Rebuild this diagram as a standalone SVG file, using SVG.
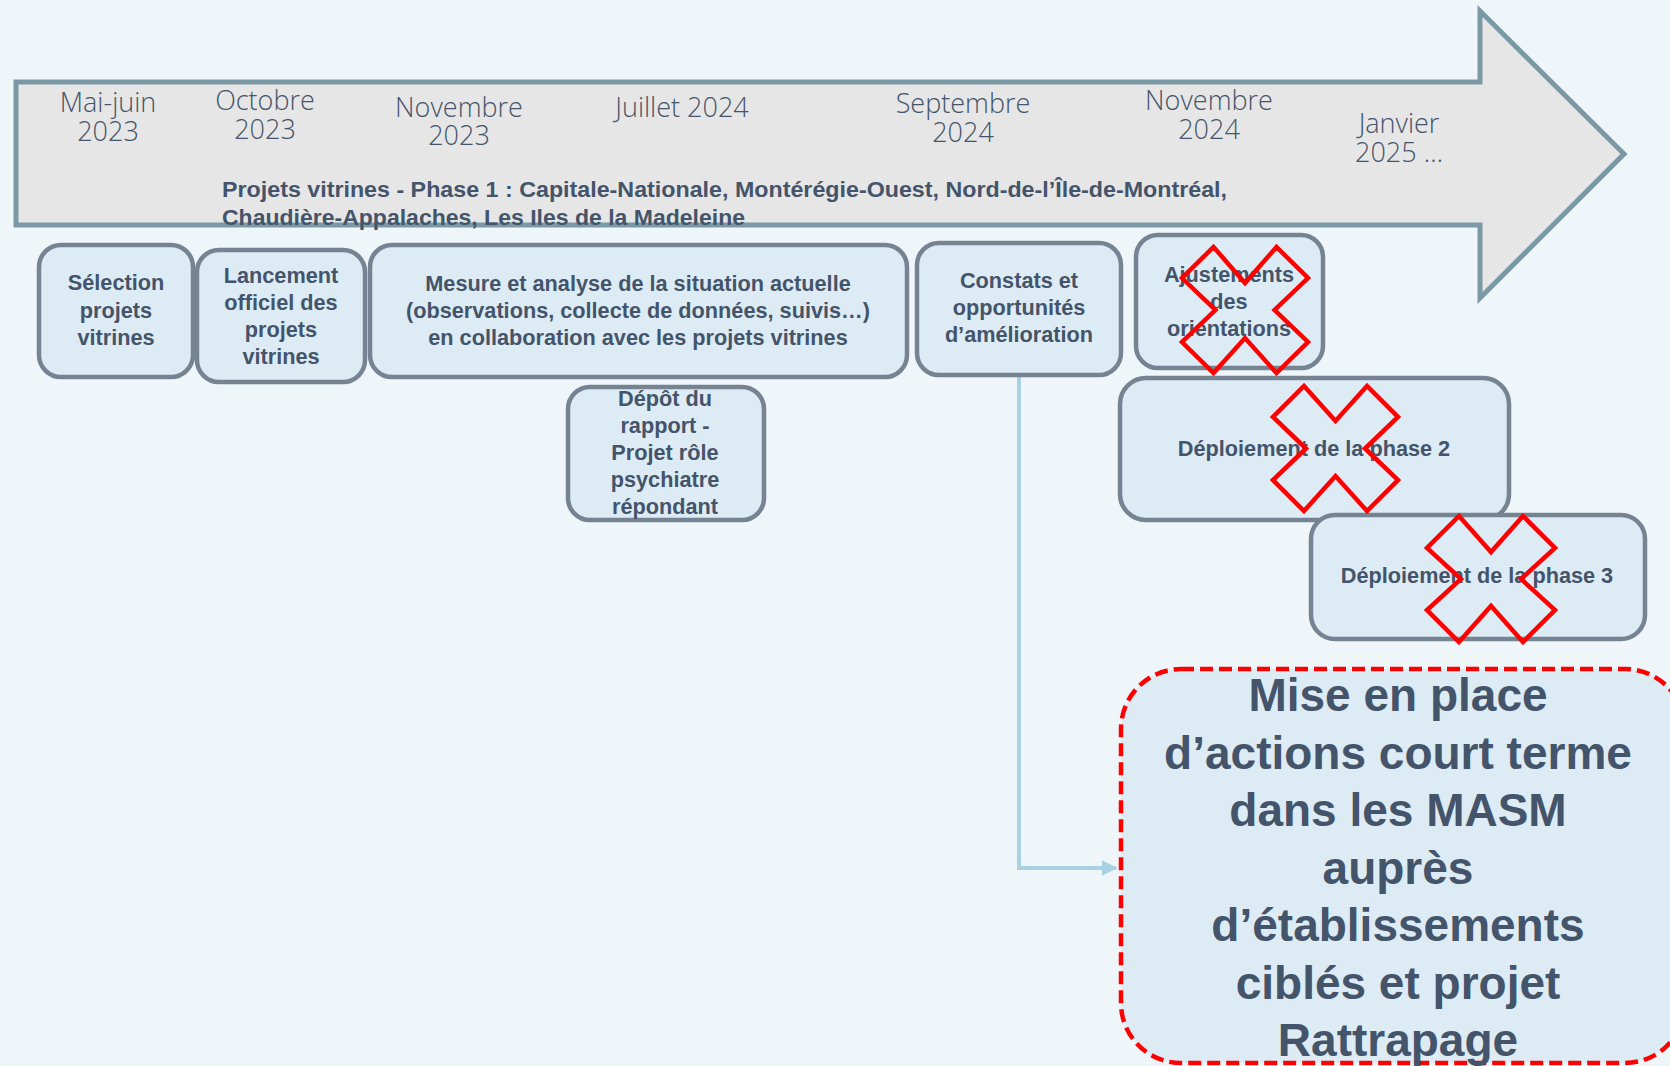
<svg xmlns="http://www.w3.org/2000/svg" width="1670" height="1066" viewBox="0 0 1670 1066">
<style>
.date{font-family:"Open Sans","Liberation Sans",sans-serif;font-weight:300;font-size:27px;fill:#44546A;text-anchor:middle}
.band{font-family:"Liberation Sans",Arial,sans-serif;font-weight:bold;font-size:22.5px;fill:#44546A}
.box{fill:#DDEBF4;stroke:#758392;stroke-width:4.5}
.lbl{font-family:"Liberation Sans",Arial,sans-serif;font-weight:bold;font-size:21.7px;fill:#44546A;text-anchor:middle}
.big{font-family:"Liberation Sans",Arial,sans-serif;font-weight:bold;font-size:46px;fill:#44546A;text-anchor:middle}
.x{fill:none;stroke:#FF0000;stroke-width:4.5;stroke-linejoin:miter}
</style>
<defs>
<marker id="ah" viewBox="0 0 10 10" refX="9" refY="5" markerWidth="4" markerHeight="4" orient="auto" markerUnits="strokeWidth">
<path d="M0 0 L10 5 L0 10 Z" fill="#A8D1E2"/>
</marker>
</defs>
<rect width="1670" height="1066" fill="#EEF6FA"/>

<g id="timeline">
<path d="M16 82 H1480 V11 L1624 154 L1480 298 V225 H16 Z" fill="#E7E6E6" stroke="#7B99A4" stroke-width="5"/>
<text class="date" x="108" y="112">Mai-juin</text>
<text class="date" x="108" y="141">2023</text>
<text class="date" x="265" y="110">Octobre</text>
<text class="date" x="265" y="139">2023</text>
<text class="date" x="459" y="117">Novembre</text>
<text class="date" x="459" y="145">2023</text>
<text class="date" x="682" y="117">Juillet 2024</text>
<text class="date" x="963" y="113">Septembre</text>
<text class="date" x="963" y="142">2024</text>
<text class="date" x="1209" y="110">Novembre</text>
<text class="date" x="1209" y="139">2024</text>
<text class="date" x="1399" y="133">Janvier</text>
<text class="date" x="1399" y="162">2025 …</text>
<text class="band" x="222" y="197" textLength="1005" lengthAdjust="spacingAndGlyphs">Projets vitrines - Phase 1 : Capitale-Nationale, Montérégie-Ouest, Nord-de-l’Île-de-Montréal,</text>
<text class="band" x="222" y="225" textLength="523" lengthAdjust="spacingAndGlyphs">Chaudière-Appalaches, Les Iles de la Madeleine</text>
</g>

<g id="connectors">
<path d="M1019 377 V868 H1116" fill="none" stroke="#A8D1E2" stroke-width="4" marker-end="url(#ah)"/>
</g>

<g id="n1">
<rect class="box" x="39" y="245" width="154" height="132" rx="22"/>
<text class="lbl" x="116" y="290">Sélection</text>
<text class="lbl" x="116" y="318">projets</text>
<text class="lbl" x="116" y="345">vitrines</text>
</g>
<g id="n2">
<rect class="box" x="197" y="250" width="168" height="132" rx="22"/>
<text class="lbl" x="281" y="283">Lancement</text>
<text class="lbl" x="281" y="310">officiel des</text>
<text class="lbl" x="281" y="337">projets</text>
<text class="lbl" x="281" y="364">vitrines</text>
</g>
<g id="n3">
<rect class="box" x="370" y="245" width="537" height="132" rx="22"/>
<text class="lbl" x="638" y="291">Mesure et analyse de la situation actuelle</text>
<text class="lbl" x="638" y="318">(observations, collecte de données, suivis…)</text>
<text class="lbl" x="638" y="345">en collaboration avec les projets vitrines</text>
</g>
<g id="n4">
<rect class="box" x="917" y="243" width="204" height="132" rx="22"/>
<text class="lbl" x="1019" y="288">Constats et</text>
<text class="lbl" x="1019" y="315">opportunités</text>
<text class="lbl" x="1019" y="342">d’amélioration</text>
</g>
<g id="n5">
<rect class="box" x="1136" y="235" width="187" height="133" rx="22"/>
<text class="lbl" x="1229" y="282">Ajustements</text>
<text class="lbl" x="1229" y="309">des</text>
<text class="lbl" x="1229" y="336">orientations</text>
</g>
<g id="n6">
<rect class="box" x="568" y="387" width="196" height="133" rx="22"/>
<text class="lbl" x="665" y="406">Dépôt du</text>
<text class="lbl" x="665" y="433">rapport -</text>
<text class="lbl" x="665" y="460">Projet rôle</text>
<text class="lbl" x="665" y="487">psychiatre</text>
<text class="lbl" x="665" y="514">répondant</text>
</g>
<g id="n7">
<rect class="box" x="1120" y="378" width="389" height="142" rx="26"/>
<text class="lbl" x="1314" y="456">Déploiement de la phase 2</text>
</g>
<g id="n8">
<rect class="box" x="1311" y="515" width="334" height="124" rx="24"/>
<text class="lbl" x="1477" y="583">Déploiement de la phase 3</text>
</g>
<g id="n9">
<rect x="1121" y="669" width="564" height="394" rx="60" fill="#DDEBF4" stroke="#FF0000" stroke-width="4.5" stroke-dasharray="13 6"/>
<text class="big" x="1398" y="711">Mise en place</text>
<text class="big" x="1398" y="769">d’actions court terme</text>
<text class="big" x="1398" y="826">dans les MASM</text>
<text class="big" x="1398" y="884">auprès</text>
<text class="big" x="1398" y="941">d’établissements</text>
<text class="big" x="1398" y="999">ciblés et projet</text>
<text class="big" x="1398" y="1056">Rattrapage</text>
</g>

<g id="crosses">
<polygon class="x" points="1213.5,247 1245,283 1276.5,247 1308,278 1274.6,310 1308,342 1276.5,373 1245,338 1213.5,373 1182,342 1215.4,310 1182,278"/>
<polygon class="x" points="1304,386 1335.5,421 1367,386 1398,417 1365,448.5 1398,480 1367,511 1335.5,476 1304,511 1273,480 1306,448.5 1273,417"/>
<polygon class="x" points="1459,516 1491,552 1523,516 1555,548 1521,579 1555,610 1523,642 1491,606 1459,642 1427,610 1461,579 1427,548"/>
</g>
</svg>
